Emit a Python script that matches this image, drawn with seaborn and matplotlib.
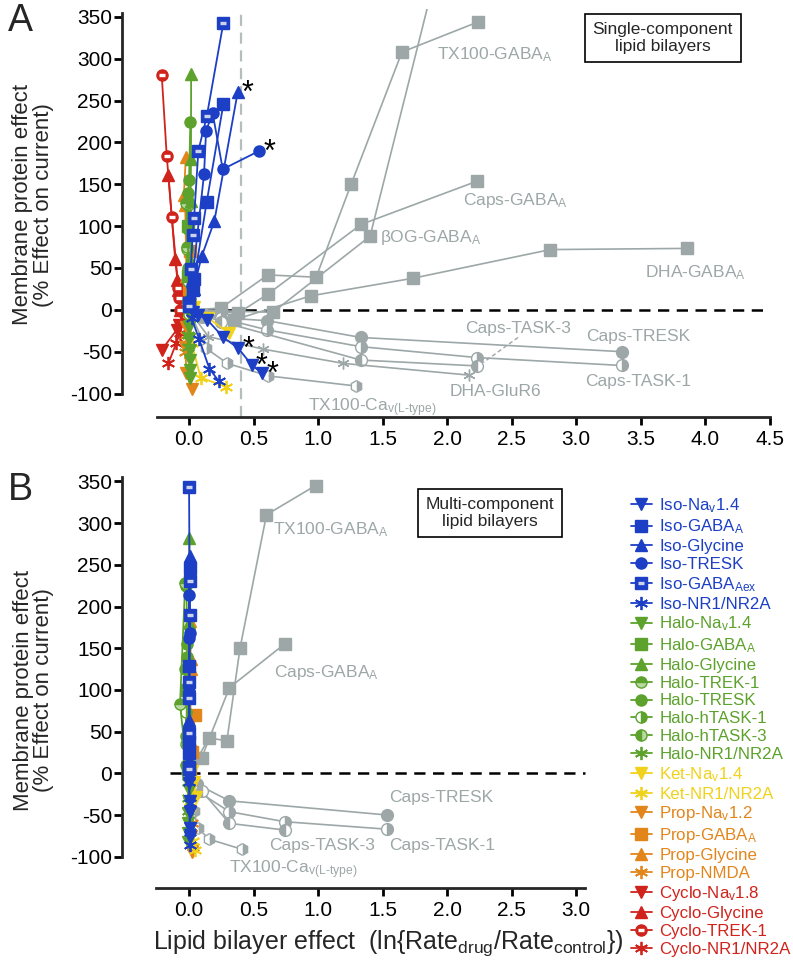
import matplotlib
matplotlib.use("Agg")
import matplotlib.pyplot as plt
import seaborn as sns
from matplotlib.legend_handler import HandlerTuple

# ------------------------------------------------------------------ data
# Panel A = single-component bilayers, Panel B = multi-component bilayers
# ---- Iso (blue)
ISO_NAV_AX = [0.0, 0.03, 0.072, 0.142, 0.266, 0.382, 0.486, 0.568]
ISO_NAV_AY = [5, -2, -6, -12, -33, -46, -66, -76]
ISO_NAV_BX = [0.0, 0.0, 0.002, 0.002, 0.004, 0.004, 0.004, 0.004]
ISO_GABA_AX = [0.0, 0.028, 0.041, 0.137, 0.266]
ISO_GABA_AY = [8, 24, 37, 129, 246]
ISO_GABA_BX = [0.0, 0.0, 0.002, 0.002, 0.004]
ISO_GLY_AX = [0.0, 0.035, 0.098, 0.196, 0.377]
ISO_GLY_AY = [5, 25, 64, 106, 260]
ISO_GLY_BX = [0.0, 0.0, 0.002, 0.002, 0.004]
ISO_TRESK_AX = [0.0, 0.02, 0.116, 0.132, 0.183, 0.261, 0.545]
ISO_TRESK_AY = [10, 28, 162, 214, 235, 168, 190]
ISO_TRESK_BX = [0.0, 0.0, 0.002, 0.002, 0.004, 0.004, 0.004]
ISO_GABAEX_AX = [0.0, 0.013, 0.028, 0.039, 0.072, 0.137, 0.266]
ISO_GABAEX_AY = [5, 48.6, 90, 110, 190, 231, 343]
ISO_GABAEX_BX = [0.0, 0.0, 0.002, 0.002, 0.004, 0.004, 0.0]
ISO_NMDA_AX = [0.02, 0.078, 0.158, 0.233]
ISO_NMDA_AY = [-10, -35, -70.5, -85.6]
ISO_NMDA_BX = [0.0, 0.004, 0.008, 0.01]
# ---- Halo (green)
HALO_NAV_AX = [0.0, 0.0, 0.0, 0.005, 0.005, 0.008, 0.008]
HALO_NAV_AY = [-5, -20, -35, -48, -60, -72, -82]
HALO_NAV_BX = [-0.004, -0.004, -0.004, -0.006, -0.006, -0.008, -0.01]
HALO_GABA_AX = [0.0, -0.005, -0.01]
HALO_GABA_AY = [5, 40, 100]
HALO_GABA_BX = [-0.01, -0.012, -0.015]
HALO_GLY_AX = [0.005, 0.01, 0.012, 0.015, 0.016]
HALO_GLY_AY = [20, 60, 130, 180, 282]
HALO_GLY_BX = [0.0, 0.0, 0.002, 0.002, 0.002]
HALO_TREK_AX = [-0.01, -0.015, -0.02]
HALO_TREK_AY = [10, 75, 128]
HALO_TREK_BX = [-0.02, -0.07, -0.03]
HALO_TREK_BY = [10, 83, 228]
HALO_TRESK_AX = [0.0, -0.01, -0.01, -0.005, 0.0, 0.01]
HALO_TRESK_AY = [5, 50, 96, 139, 155, 225]
HALO_TRESK_BX = [-0.01, -0.012, -0.012, -0.015, -0.015, -0.02]
HALO_TASK1_AX = [0.0, -0.01, -0.015]
HALO_TASK1_AY = [-5, 35, 73]
HALO_TASK1_BX = [-0.01, -0.02, -0.025]
HALO_TASK3_AX = [0.0, -0.01, -0.01]
HALO_TASK3_AY = [0, 45, 125]
HALO_TASK3_BX = [-0.01, -0.02, -0.03]
HALO_NMDA_AX = [0.0, -0.01, -0.01]
HALO_NMDA_AY = [-10, -30, -45]
HALO_NMDA_BX = [-0.005, -0.01, -0.01]
# ---- Ket (yellow)
KET_NAV_AX = [0.0, 0.04, 0.15, 0.31]
KET_NAV_AY = [0, 3, -10, -28]
KET_NAV_BX = [0.0, 0.02, 0.04, 0.05]
KET_NMDA_AX = [0.0, 0.02, 0.09, 0.29]
KET_NMDA_AY = [-5, -40, -81, -92]
KET_NMDA_BX = [0.0, 0.01, 0.03, 0.045]
# ---- Prop (orange)
PROP_NAV_AX = [0.0, -0.02, -0.03, -0.02, 0.02]
PROP_NAV_AY = [-5, -20, -45, -75, -94]
PROP_NAV_BX = [0.01, 0.01, 0.01, 0.015, 0.02]
PROP_GABA_AX = [0.0, 0.0, 0.01]
PROP_GABA_AY = [5, 25, 70]
PROP_GABA_BX = [0.01, 0.02, 0.045]
PROP_GLY_AX = [0.0, -0.02, -0.03, -0.04, -0.025]
PROP_GLY_AY = [0, 40, 125, 137, 183]
PROP_GLY_BX = [0.01, 0.01, 0.012, 0.012, 0.01]
PROP_NMDA_AX = [0.0, -0.02, -0.03]
PROP_NMDA_AY = [-10, -30, -50]
PROP_NMDA_BX = [0.01, 0.02, 0.03]
PROP_NMDA_BY = [-10, -60, -88]
# ---- Cyclo (red) -- only visible in panel A
CYC_NAV_AX = [-0.05, -0.08, -0.096, -0.212]
CYC_NAV_AY = [-5, -18, -24, -48]
CYC_GLY_AX = [-0.07, -0.088, -0.09, -0.108, -0.16]
CYC_GLY_AY = [0, 24, 36, 61, 161]
CYC_TREK_AX = [-0.07, -0.08, -0.083, -0.134, -0.173, -0.212]
CYC_TREK_AY = [0, 14, 26, 111, 184, 281]
CYC_NMDA_AX = [-0.05, -0.07, -0.1, -0.16]
CYC_NMDA_AY = [-10, -28, -40, -64]
# ---- other amphiphiles (grey), panel A
TX100_GABA_AX = [0.0, 0.246, 0.61, 0.985, 1.256, 1.65, 2.24]
TX100_GABA_AY = [0, 2, 41.7, 39, 150, 308, 344]
CAPS_GABA_AX = [0.0, 0.38, 0.61, 1.333, 2.23]
CAPS_GABA_AY = [0, -4, 18.7, 102, 153.6]
BOG_GABA_AX = [0.0, 0.65, 1.403, 1.87]
BOG_GABA_AY = [0, -3, 88, 375]
DHA_GABA_AX = [0.0, 0.35, 0.943, 1.734, 2.80, 3.86]
DHA_GABA_AY = [0, -12, 16.7, 37.7, 72, 73.4]
CAPS_TRESK_AX = [0.0, 0.1, 0.607, 1.331, 3.354]
CAPS_TRESK_AY = [0, -8, -13, -33, -50]
CAPS_TASK1_AX = [0.0, 0.246, 0.607, 1.331, 2.23, 3.354]
CAPS_TASK1_AY = [0, -10, -24, -44, -57, -66.5]
CAPS_TASK3_AX = [0.0, 0.246, 1.331, 2.23]
CAPS_TASK3_AY = [0, -14, -60, -67]
DHA_GLUR_AX = [0.02, 0.15, 0.576, 1.196, 2.17]
DHA_GLUR_AY = [-5, -32, -47, -64, -78]
TX100_CAV_AX = [0.0, 0.132, 0.297, 0.615, 1.295]
TX100_CAV_AY = [0, -46, -64, -79, -91]
# ---- grey, panel B
TX100_GABA_BX = [0.0, 0.155, 0.293, 0.395, 0.6, 0.98]
TX100_GABA_BY = [0, 42.7, 38.7, 150, 310, 345]
CAPS_GABA_BX = [0.0, 0.098, 0.313, 0.74]
CAPS_GABA_BY = [0, 18.7, 102.7, 155]
CAPS_TRESK_BX = [0.0, 0.06, 0.313, 1.536]
CAPS_TRESK_BY = [0, -13, -33, -50]
CAPS_TASK1_BX = [0.0, 0.06, 0.313, 0.74, 1.536]
CAPS_TASK1_BY = [0, -21, -46, -58, -67]
CAPS_TASK3_BX = [0.0, 0.098, 0.313, 0.74]
CAPS_TASK3_BY = [0, -21, -60, -68]
TX100_CAV_BX = [0.0, 0.035, 0.072, 0.155, 0.408]
TX100_CAV_BY = [0, -45, -66, -79, -91]

X_TICKS_A = [0.0, 0.5, 1.0, 1.5, 2.0, 2.5, 3.0, 3.5, 4.0, 4.5]
X_TICKS_B = [0.0, 0.5, 1.0, 1.5, 2.0, 2.5, 3.0]
Y_TICKS = [-100, -50, 0, 50, 100, 150, 200, 250, 300, 350]

# ------------------------------------------------------------------ style
sns.set_theme(style="ticks")
plt.rcParams["font.family"] = ["Liberation Sans", "DejaVu Sans"]
plt.rcParams["mathtext.default"] = "regular"

BLUE = "#1c3fc6"
GREEN = "#5ca22c"
YELLOW = "#f0d21c"
ORANGE = "#e2861c"
RED = "#d0231c"
GRAY = "#9da7a7"
STAR = (6, 2, 0)

fig = plt.figure(figsize=(7.93, 9.69), dpi=100)
axA = fig.add_axes([0.1538, 0.5697, 0.8298, 0.4215])
axB = fig.add_axes([0.1538, 0.0836, 0.589, 0.4282])


def draw(ax, x, y, color, marker, fill="full", alt="white", ms=8.0, lw=1.3,
         z=3, stripe=None, mew=1.0):
    sns.lineplot(x=x, y=y, sort=False, estimator=None, ax=ax, color=color,
                 marker=marker, markersize=ms, fillstyle=fill,
                 markerfacecoloralt=alt, markeredgecolor=color,
                 markeredgewidth=mew, linewidth=lw, zorder=z, legend=False)
    line = ax.lines[-1]
    if stripe is not None:
        s = ax.plot(x, y, ls="none", marker="_", ms=ms * 0.55, mew=2.4,
                    color=stripe, zorder=z + 0.1)[0]
        return (line, s)
    return line


# colored series: (label, color, marker, fill, alt, stripe, AX, AY, BX, BY)
colored = [
    ("Iso-Na$_{v}$1.4", BLUE, "v", "full", None, None, ISO_NAV_AX, ISO_NAV_AY, ISO_NAV_BX, ISO_NAV_AY),
    ("Iso-GABA$_{A}$", BLUE, "s", "full", None, None, ISO_GABA_AX, ISO_GABA_AY, ISO_GABA_BX, ISO_GABA_AY),
    ("Iso-Glycine", BLUE, "^", "full", None, None, ISO_GLY_AX, ISO_GLY_AY, ISO_GLY_BX, ISO_GLY_AY),
    ("Iso-TRESK", BLUE, "o", "full", None, None, ISO_TRESK_AX, ISO_TRESK_AY, ISO_TRESK_BX, ISO_TRESK_AY),
    ("Iso-GABA$_{Aex}$", BLUE, "s", "full", None, "#cdd4ea", ISO_GABAEX_AX, ISO_GABAEX_AY, ISO_GABAEX_BX, ISO_GABAEX_AY),
    ("Iso-NR1/NR2A", BLUE, STAR, "full", None, None, ISO_NMDA_AX, ISO_NMDA_AY, ISO_NMDA_BX, ISO_NMDA_AY),
    ("Halo-Na$_{v}$1.4", GREEN, "v", "full", None, None, HALO_NAV_AX, HALO_NAV_AY, HALO_NAV_BX, HALO_NAV_AY),
    ("Halo-GABA$_{A}$", GREEN, "s", "full", None, None, HALO_GABA_AX, HALO_GABA_AY, HALO_GABA_BX, HALO_GABA_AY),
    ("Halo-Glycine", GREEN, "^", "full", None, None, HALO_GLY_AX, HALO_GLY_AY, HALO_GLY_BX, HALO_GLY_AY),
    ("Halo-TREK-1", GREEN, "o", "top", "#b9d9a4", None, HALO_TREK_AX, HALO_TREK_AY, HALO_TREK_BX, HALO_TREK_BY),
    ("Halo-TRESK", GREEN, "o", "full", None, None, HALO_TRESK_AX, HALO_TRESK_AY, HALO_TRESK_BX, HALO_TRESK_AY),
    ("Halo-hTASK-1", GREEN, "o", "right", "white", None, HALO_TASK1_AX, HALO_TASK1_AY, HALO_TASK1_BX, HALO_TASK1_AY),
    ("Halo-hTASK-3", GREEN, "o", "left", "#b9d9a4", None, HALO_TASK3_AX, HALO_TASK3_AY, HALO_TASK3_BX, HALO_TASK3_AY),
    ("Halo-NR1/NR2A", GREEN, STAR, "full", None, None, HALO_NMDA_AX, HALO_NMDA_AY, HALO_NMDA_BX, HALO_NMDA_AY),
    ("Ket-Na$_{v}$1.4", YELLOW, "v", "full", None, None, KET_NAV_AX, KET_NAV_AY, KET_NAV_BX, KET_NAV_AY),
    ("Ket-NR1/NR2A", YELLOW, STAR, "full", None, None, KET_NMDA_AX, KET_NMDA_AY, KET_NMDA_BX, KET_NMDA_AY),
    ("Prop-Na$_{v}$1.2", ORANGE, "v", "full", None, None, PROP_NAV_AX, PROP_NAV_AY, PROP_NAV_BX, PROP_NAV_AY),
    ("Prop-GABA$_{A}$", ORANGE, "s", "full", None, None, PROP_GABA_AX, PROP_GABA_AY, PROP_GABA_BX, PROP_GABA_AY),
    ("Prop-Glycine", ORANGE, "^", "full", None, None, PROP_GLY_AX, PROP_GLY_AY, PROP_GLY_BX, PROP_GLY_AY),
    ("Prop-NMDA", ORANGE, STAR, "full", None, None, PROP_NMDA_AX, PROP_NMDA_AY, PROP_NMDA_BX, PROP_NMDA_BY),
    ("Cyclo-Na$_{v}$1.8", RED, "v", "full", None, None, CYC_NAV_AX, CYC_NAV_AY, None, None),
    ("Cyclo-Glycine", RED, "^", "full", None, None, CYC_GLY_AX, CYC_GLY_AY, None, None),
    ("Cyclo-TREK-1", RED, "o", "full", None, "white", CYC_TREK_AX, CYC_TREK_AY, None, None),
    ("Cyclo-NR1/NR2A", RED, STAR, "full", None, None, CYC_NMDA_AX, CYC_NMDA_AY, None, None),
]

grayA = [
    (TX100_GABA_AX, TX100_GABA_AY, "s", "full"),
    (CAPS_GABA_AX, CAPS_GABA_AY, "s", "full"),
    (BOG_GABA_AX, BOG_GABA_AY, "s", "full"),
    (DHA_GABA_AX, DHA_GABA_AY, "s", "full"),
    (CAPS_TRESK_AX, CAPS_TRESK_AY, "o", "full"),
    (CAPS_TASK1_AX, CAPS_TASK1_AY, "o", "right"),
    (CAPS_TASK3_AX, CAPS_TASK3_AY, "o", "left"),
    (DHA_GLUR_AX, DHA_GLUR_AY, STAR, "full"),
    (TX100_CAV_AX, TX100_CAV_AY, "h", "right"),
]
grayB = [
    (TX100_GABA_BX, TX100_GABA_BY, "s", "full"),
    (CAPS_GABA_BX, CAPS_GABA_BY, "s", "full"),
    (CAPS_TRESK_BX, CAPS_TRESK_BY, "o", "full"),
    (CAPS_TASK1_BX, CAPS_TASK1_BY, "o", "right"),
    (CAPS_TASK3_BX, CAPS_TASK3_BY, "o", "left"),
    (TX100_CAV_BX, TX100_CAV_BY, "h", "right"),
]

for ax, glist in ((axA, grayA), (axB, grayB)):
    for gx, gy, mk, fs in glist:
        draw(ax, gx, gy, GRAY, mk, fill=fs, alt="white", ms=8.5, lw=1.2, z=2)

handles, labels = [], []
for i, (lab, col, mk, fs, alt, stripe, ax_, ay_, bx_, by_) in enumerate(reversed(colored)):
    z = 3 + i * 0.01
    ms = 9.5 if mk == STAR else 8.0
    mew = 1.3 if mk == STAR else 1.0
    altc = alt if alt else "white"
    h = draw(axA, ax_, ay_, col, mk, fill=fs, alt=altc, ms=ms, lw=1.3, z=z,
             stripe=stripe, mew=mew)
    if bx_ is not None:
        draw(axB, bx_, by_, col, mk, fill=fs, alt=altc, ms=ms, lw=1.3, z=z,
             stripe=stripe, mew=mew)
    handles.append(h)
    labels.append(lab)
handles = handles[::-1]
labels = labels[::-1]

# significance asterisks
star_pts = [(ISO_GLY_AX[-1], ISO_GLY_AY[-1]), (ISO_TRESK_AX[-1], ISO_TRESK_AY[-1]),
            (ISO_NAV_AX[-3], ISO_NAV_AY[-3]), (ISO_NAV_AX[-2], ISO_NAV_AY[-2]),
            (ISO_NAV_AX[-1], ISO_NAV_AY[-1])]
for sx, sy in star_pts:
    axA.annotate("*", xy=(sx, sy), xytext=(3, -12), textcoords="offset points",
                 fontsize=22, color="black", ha="left", va="bottom", zorder=10)

# reference lines
axA.axvline(0.4, color="#b5bebe", ls=(0, (5, 3)), lw=1.6, zorder=1)
axA.hlines(0, -0.15, 4.5, colors="black", linestyles=(0, (4.5, 3)), lw=1.8, zorder=1.5)
axB.hlines(0, -0.15, 3.07, colors="black", linestyles=(0, (4.5, 3)), lw=1.8, zorder=1.5)

# axes formatting
for ax, xt, xlim, ylim, xb in ((axA, X_TICKS_A, (-0.52, 4.58), (-128, 360), (-0.25, 4.5)),
                               (axB, X_TICKS_B, (-0.52, 3.1), (-137.5, 360), (-0.26, 3.07))):
    ax.set_xlim(*xlim)
    ax.set_ylim(*ylim)
    ax.set_xticks(xt)
    ax.set_xticklabels([f"{v:.1f}" for v in xt])
    ax.set_yticks(Y_TICKS)
    ax.set_yticklabels([str(v) for v in Y_TICKS])
    for s in ("top", "right"):
        ax.spines[s].set_visible(False)
    ax.spines["left"].set_bounds(-100, 355)
    ax.spines["bottom"].set_bounds(*xb)
    ax.spines["left"].set_linewidth(2.0)
    ax.spines["bottom"].set_linewidth(2.0)
    ax.tick_params(axis="both", direction="out", length=5.5, width=2.0,
                   labelsize=15, color="black", labelcolor="black")
    ax.tick_params(axis="y", pad=1.5)
    ax.tick_params(axis="x", pad=4)
    ax.set_xlabel("")
    ax.set_ylabel("Membrane protein effect\n(% Effect on current)", fontsize=16,
                  linespacing=0.95)
    ax.patch.set_alpha(0)

axA.yaxis.set_label_coords(-0.104, 0.52)
axB.yaxis.set_label_coords(-0.146, 0.477)

# grey series labels
gl = dict(color=GRAY, fontsize=12.5, ha="left", va="center")
axA.text(1.92, 305, "TX100-GABA$_{A}$", **gl)
axA.text(2.12, 131, "Caps-GABA$_{A}$", **gl)
axA.text(1.48, 86, "βOG-GABA$_{A}$", **gl)
axA.text(3.53, 45, "DHA-GABA$_{A}$", **gl)
axA.text(2.14, -22, "Caps-TASK-3", **gl)
axA.text(3.08, -32, "Caps-TRESK", **gl)
axA.text(3.07, -86, "Caps-TASK-1", **gl)
axA.text(2.02, -97, "DHA-GluR6", **gl)
axA.text(0.92, -117, "TX100-Ca$_{v\\mathregular{(L\u2010type)}}$", **gl)
axA.plot([2.55, 2.28], [-33, -63], color=GRAY, ls=(0, (3, 2)), lw=1.0)

axB.text(0.65, 292, "TX100-GABA$_{A}$", **gl)
axB.text(0.66, 121, "Caps-GABA$_{A}$", **gl)
axB.text(1.55, -29, "Caps-TRESK", **gl)
axB.text(0.62, -86, "Caps-TASK-3", **gl)
axB.text(1.55, -86, "Caps-TASK-1", **gl)
axB.text(0.31, -116, "TX100-Ca$_{v\\mathregular{(L\u2010type)}}$", **gl)

box = dict(boxstyle="square,pad=0.45", fc="white", ec="black", lw=1.2)
axA.text(3.67, 325, "Single-component\nlipid bilayers", fontsize=12.5,
         ha="center", va="center", bbox=box, linespacing=1.15)
axB.text(2.33, 312, "Multi-component\nlipid bilayers", fontsize=12.5,
         ha="center", va="center", bbox=box, linespacing=1.15)

# panel letters
fig.text(0.010, 0.997, "A", fontsize=27, ha="left", va="top")
fig.text(0.010, 0.513, "B", fontsize=27, ha="left", va="top")

# x label
fig.text(0.49, 0.027, "Lipid bilayer effect  (ln{Rate$_{drug}$/Rate$_{control}$})",
         fontsize=18, ha="center", va="center")

# legend
leg = fig.legend(handles, labels, loc="upper left", bbox_to_anchor=(0.796, 0.488),
                 frameon=False, fontsize=12.2, handlelength=1.2, handletextpad=0.45,
                 labelspacing=0.17, borderpad=0, borderaxespad=0, numpoints=1,
                 handler_map={tuple: HandlerTuple(ndivide=1, pad=0)})
for txt, (lab, col, *_rest) in zip(leg.get_texts(), colored):
    txt.set_color(col)

fig.savefig("out.png", dpi=100)
